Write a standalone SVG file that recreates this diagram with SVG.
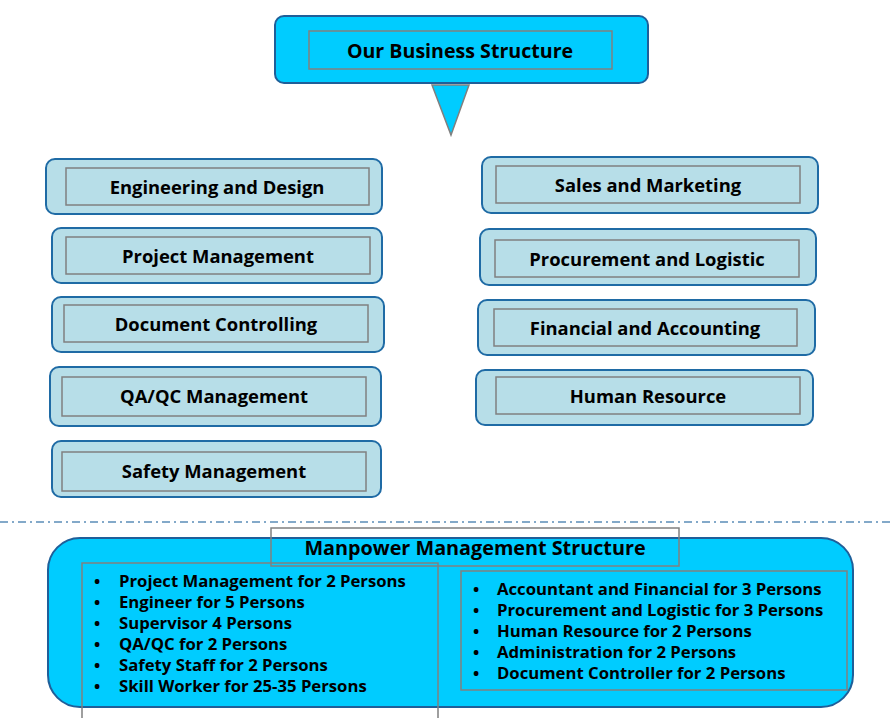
<svg xmlns="http://www.w3.org/2000/svg" width="891" height="718" viewBox="0 0 891 718">
<style>
.ob{fill:#00CCFF;stroke:#1F5F99;stroke-width:2}
.nb{fill:#B7DEE8;stroke:#1F6BA5;stroke-width:2}
.in{fill:none;stroke:#808080;stroke-width:1.5}
.t{font-family:"Open Sans","Noto Sans",sans-serif;font-weight:bold;font-size:18.4px;fill:#000;text-anchor:middle;dominant-baseline:central}
.l{font-family:"Open Sans","Noto Sans",sans-serif;font-weight:bold;font-size:16.7px;fill:#000}
</style>
<rect width="891" height="718" fill="#fff"/>
<g id="top">
<rect class="ob" x="275" y="16" width="373" height="67" rx="9"/>
<rect class="in" x="309" y="31" width="303" height="38"/>
<text class="t" x="460" y="50" style="font-size:19.6px">Our Business Structure</text>
<polygon points="432,85 469,85 451,135" fill="#00CCFF" stroke="#808080" stroke-width="1.5"/>
</g>
<g id="engineering">
<rect class="nb" x="46" y="159" width="336" height="55" rx="9"/>
<rect class="in" x="66" y="168" width="303" height="37"/>
<text class="t" x="217" y="186">Engineering and Design</text>
</g>
<g id="project">
<rect class="nb" x="52" y="228" width="330" height="55" rx="9"/>
<rect class="in" x="66" y="237" width="304" height="37"/>
<text class="t" x="218" y="255">Project Management</text>
</g>
<g id="document">
<rect class="nb" x="52" y="297" width="332" height="55" rx="9"/>
<rect class="in" x="64" y="305" width="304" height="37"/>
<text class="t" x="216" y="323">Document Controlling</text>
</g>
<g id="qaqc">
<rect class="nb" x="50" y="367" width="331" height="59" rx="9"/>
<rect class="in" x="62" y="377" width="304" height="39"/>
<text class="t" x="214" y="395">QA/QC Management</text>
</g>
<g id="safety">
<rect class="nb" x="52" y="441" width="329" height="56" rx="9"/>
<rect class="in" x="62" y="452" width="304" height="39"/>
<text class="t" x="214" y="470">Safety Management</text>
</g>
<g id="sales">
<rect class="nb" x="482" y="157" width="336" height="56" rx="9"/>
<rect class="in" x="496" y="166" width="304" height="37"/>
<text class="t" x="648" y="184">Sales and Marketing</text>
</g>
<g id="procurement">
<rect class="nb" x="480" y="229" width="336" height="56" rx="9"/>
<rect class="in" x="495" y="240" width="304" height="37"/>
<text class="t" x="647" y="258">Procurement and Logistic</text>
</g>
<g id="financial">
<rect class="nb" x="478" y="300" width="337" height="55" rx="9"/>
<rect class="in" x="494" y="309" width="303" height="37"/>
<text class="t" x="645" y="327">Financial and Accounting</text>
</g>
<g id="hr">
<rect class="nb" x="476" y="370" width="337" height="55" rx="9"/>
<rect class="in" x="496" y="377" width="304" height="37"/>
<text class="t" x="648" y="395">Human Resource</text>
</g>
<g id="connectors">
<line x1="0" y1="522" x2="891" y2="522" stroke="#5B8DB8" stroke-width="1.5" stroke-dasharray="8,4,2,4"/>
</g>
<g id="manpower">
<rect class="ob" x="48" y="538" width="805" height="169" rx="32"/>
<rect class="in" x="271" y="528" width="408" height="38"/>
<text class="t" x="475" y="547" style="font-size:19.8px">Manpower Management Structure</text>
<polyline class="in" points="82,718 82,563 438,563 438,718"/>
<rect class="in" x="461" y="571" width="386" height="119"/>
<g class="l">
<text x="94" y="587">•</text><text x="119" y="587">Project Management for 2 Persons</text>
<text x="94" y="608">•</text><text x="119" y="608">Engineer for 5 Persons</text>
<text x="94" y="629">•</text><text x="119" y="629">Supervisor 4 Persons</text>
<text x="94" y="650">•</text><text x="119" y="650">QA/QC for 2 Persons</text>
<text x="94" y="671">•</text><text x="119" y="671">Safety Staff for 2 Persons</text>
<text x="94" y="692">•</text><text x="119" y="692">Skill Worker for 25-35 Persons</text>
<text x="473" y="595">•</text><text x="497" y="595">Accountant and Financial for 3 Persons</text>
<text x="473" y="616">•</text><text x="497" y="616">Procurement and Logistic for 3 Persons</text>
<text x="473" y="637">•</text><text x="497" y="637">Human Resource for 2 Persons</text>
<text x="473" y="658">•</text><text x="497" y="658">Administration for 2 Persons</text>
<text x="473" y="679">•</text><text x="497" y="679">Document Controller for 2 Persons</text>
</g>
</g>
</svg>
